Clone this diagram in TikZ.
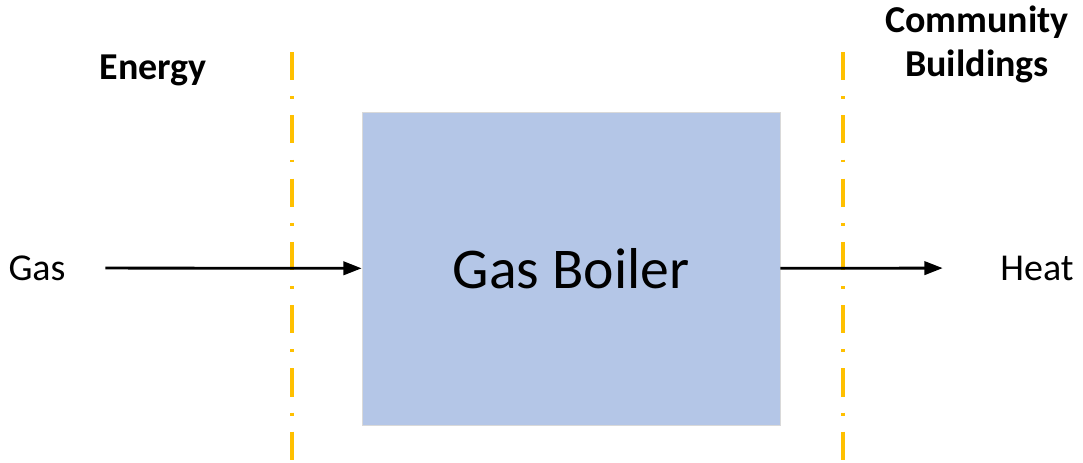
\documentclass[tikz,border=0pt]{standalone}
\usepackage{fontspec}
\setmainfont{Carlito}
\usepackage{tikz}
\definecolor{boilerblue}{RGB}{180, 198, 231}
\definecolor{limitorange}{RGB}{255, 192, 0}
\usetikzlibrary{arrows.meta, positioning, calc}

\begin{document}
\begin{tikzpicture}[
    x=0.025cm, y=-0.025cm,
    unit/.style={rectangle, draw=black!15, fill=boilerblue, minimum width=10.45cm, minimum height=7.825cm, font=\fontsize{41}{49}\selectfont},
    port/.style={inner sep=0pt, align=center, font=\fontsize{27}{31}\selectfont},
    zone/.style={align=center, font=\fontsize{27}{31}\selectfont\bfseries},
    limit/.style={limitorange, line width=2.2pt, dash pattern=on 20pt off 11.5pt on 2pt off 11.5pt},
    flow/.style={-{Triangle[length=13pt, width=9.5pt]}, line width=2pt, black}
]
    \useasboundingbox (0,0) rectangle (1083,462);

    % system boundaries
    \draw[limit] (292,52) -- (292,462);
    \draw[limit] (843,52) -- (843,462);
    \node[zone, anchor=base] (energy) at (153,79) {Energy};
    \node[zone, anchor=base] (community) at (977,76) {Community\\Buildings};

    \node[unit] (boiler) at (571,268.5) {Gas Boiler};
    \node[port, minimum width=3.4cm] (gas) at (37,268) {Gas};
    \node[port, minimum width=4.7cm] (heat) at (1037,268) {Heat};

    \draw[flow] (gas) -- (boiler);
    \draw[flow] (boiler) -- (heat);
\end{tikzpicture}
\end{document}
